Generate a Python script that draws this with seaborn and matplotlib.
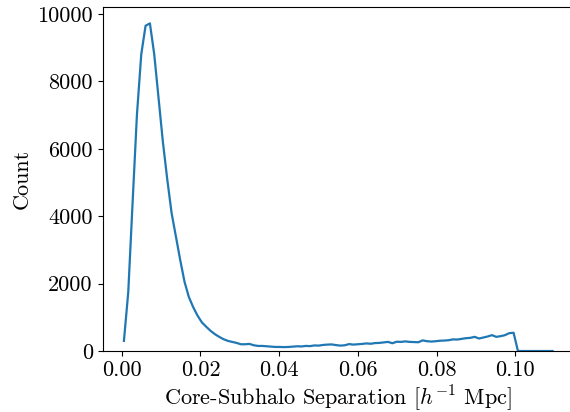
import numpy as np
import pandas as pd
import matplotlib
matplotlib.use("Agg")
import matplotlib.pyplot as plt
import seaborn as sns

# Histogram binning of core-subhalo separation (h^-1 Mpc)
bin_lo = 0.0
bin_hi = 0.11
n_bins = 100

counts = [
    300, 1750, 4400, 7000, 8800, 9650, 9720, 8800, 7500, 6200,
    5100, 4100, 3400, 2700, 2050, 1600, 1300, 1050, 850, 720,
    600, 500, 420, 350, 300, 270, 240, 200, 200, 210,
    170, 150, 150, 140, 130, 120, 120, 115, 120, 130,
    140, 135, 150, 145, 165, 160, 180, 190, 195, 175,
    160, 170, 205, 190, 200, 210, 225, 215, 235, 240,
    255, 270, 230, 275, 270, 285, 270, 265, 260, 315,
    290, 280, 290, 305, 310, 320, 345, 340, 360, 380,
    390, 420, 370, 400, 430, 470, 420, 440, 470, 530,
    540, 0, 0, 0, 0, 0, 0, 0, 0, 0,
]

x_label = r"Core-Subhalo Separation [$h^{-1}$ Mpc]"
y_label = "Count"

edges = np.linspace(bin_lo, bin_hi, n_bins + 1)
centers = 0.5 * (edges[:-1] + edges[1:])
df = pd.DataFrame({"sep": centers, "count": counts})

plt.rcParams["font.family"] = ["cmr10", "DejaVu Serif"]
plt.rcParams["mathtext.fontset"] = "cm"
plt.rcParams["axes.formatter.use_mathtext"] = True
plt.rcParams["font.size"] = 16

fig = plt.figure(figsize=(5.70, 4.12), dpi=100)
ax = fig.add_axes([102.5 / 570, 61 / 412, (574 - 102.5) / 570, (351 - 7) / 412])

sns.lineplot(data=df, x="sep", y="count", ax=ax, color="#1f77b4", linewidth=1.6)
ax.set_ylim(bottom=0)
ax.set_xticks([0.00, 0.02, 0.04, 0.06, 0.08, 0.10])
ax.set_xticklabels(["0.00", "0.02", "0.04", "0.06", "0.08", "0.10"])
ax.set_yticks([0, 2000, 4000, 6000, 8000, 10000])
ax.set_yticklabels(["0", "2000", "4000", "6000", "8000", "10000"])
ax.set_xlabel(x_label, labelpad=2)
ax.set_ylabel(y_label)

fig.savefig("out.png", dpi=100)
